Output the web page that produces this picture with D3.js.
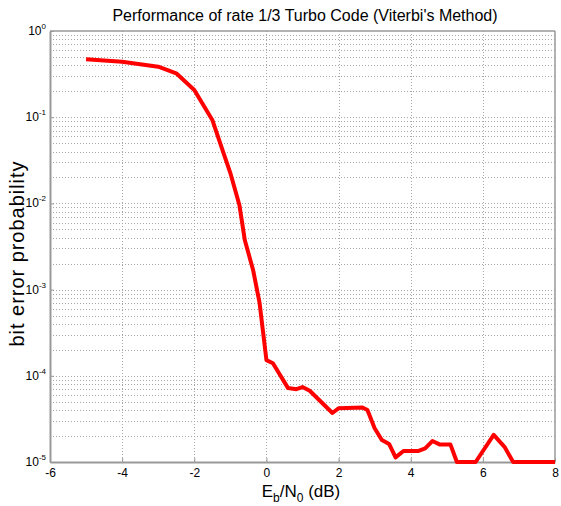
<!DOCTYPE html>
<html>
<head>
<meta charset="utf-8">
<script src="https://cdn.jsdelivr.net/npm/d3@7"></script>
<style>
  body { margin: 0; background: #fff; }
  text { font-family: Arial, "Liberation Sans", sans-serif; }
</style>
</head>
<body>
<div id="chart"></div>
<script>
// Eb/N0 in dB
const ebno = [-5, -4, -3, -2.5, -2, -1.5, -1.25, -1, -0.75, -0.6, -0.37, -0.19, -0.1, 0,
  0.18, 0.6, 0.83, 1.0, 1.2, 1.83, 2.0, 2.66, 2.8, 3.0, 3.2, 3.4, 3.58, 3.8, 4.2, 4.4,
  4.6, 4.8, 5.1, 5.28, 5.8, 6.3, 6.6, 6.84, 8.0];
// bit error probability
const ber = [0.47, 0.44, 0.385, 0.323, 0.207, 0.093, 0.0455, 0.0225, 0.0096, 0.00376,
  0.00169, 0.0007, 0.00034, 0.000152, 0.00014, 7.2e-5, 7.0e-5, 7.4e-5, 6.7e-5, 3.7e-5,
  4.2e-5, 4.3e-5, 4.0e-5, 2.46e-5, 1.8e-5, 1.62e-5, 1.13e-5, 1.34e-5, 1.34e-5, 1.44e-5,
  1.75e-5, 1.6e-5, 1.6e-5, 1e-5, 1e-5, 2.06e-5, 1.5e-5, 1e-5, 1e-5];
const xTicks = [-6, -4, -2, 0, 2, 4, 6, 8];
const yExps = [0, -1, -2, -3, -4, -5];

const width = 561, height = 506;
const margin = {top: 31, right: 6, bottom: 44, left: 50};

const xScale = d3.scaleLinear()
    .domain([-6, 8])
    .range([margin.left, width - margin.right]);

const yScale = d3.scaleLog()
    .domain([1e-5, 1])
    .range([height - margin.bottom, margin.top]);

const svg = d3.select("#chart")
    .append("svg")
    .attr("width", width)
    .attr("height", height);

// minor + major horizontal grid
let yGrid = [];
for (let e = -5; e < 0; e++) {
    for (let m = 1; m < 10; m++) yGrid.push(m * Math.pow(10, e));
}
yGrid = yGrid.filter(v => v > 1e-5);

svg.append("g")
    .selectAll("line")
    .data(yGrid)
    .join("line")
      .attr("x1", margin.left)
      .attr("x2", width - margin.right)
      .attr("y1", d => Math.round(yScale(d)) + 0.5)
      .attr("y2", d => Math.round(yScale(d)) + 0.5)
      .attr("stroke", "#a8a8a8")
      .attr("stroke-dasharray", "1,2");

svg.append("g")
    .selectAll("line")
    .data(xTicks.slice(1, -1))
    .join("line")
      .attr("x1", d => Math.round(xScale(d)) + 0.5)
      .attr("x2", d => Math.round(xScale(d)) + 0.5)
      .attr("y1", margin.top)
      .attr("y2", height - margin.bottom)
      .attr("stroke", "#a8a8a8")
      .attr("stroke-dasharray", "1,2");

// axes (ticks inside, like matlab)
const xAxis = svg.append("g")
    .attr("transform", `translate(0,${height - margin.bottom})`)
    .call(d3.axisBottom(xScale).tickValues(xTicks).tickSizeInner(-4).tickSizeOuter(0)
        .tickPadding(6).tickFormat(d => String(d)));

const yAxis = svg.append("g")
    .attr("transform", `translate(${margin.left},0)`)
    .call(d3.axisLeft(yScale).tickValues(yExps.map(e => Math.pow(10, e))).tickSizeInner(-4).tickSizeOuter(0).tickFormat(""));

svg.selectAll(".domain").attr("stroke", "#999").attr("stroke-width", 2);
svg.selectAll(".tick line").attr("stroke", "#999");
xAxis.selectAll("text").attr("font-size", 12).attr("fill", "#000");

// top and right box lines
svg.append("line")
    .attr("x1", margin.left).attr("x2", width - margin.right)
    .attr("y1", margin.top).attr("y2", margin.top)
    .attr("stroke", "#999").attr("stroke-width", 1.5);
svg.append("line")
    .attr("x1", width - margin.right).attr("x2", width - margin.right)
    .attr("y1", margin.top).attr("y2", height - margin.bottom)
    .attr("stroke", "#999").attr("stroke-width", 1.5);

// y tick labels 10^e
const yLab = svg.append("g")
    .selectAll("text")
    .data(yExps)
    .join("text")
      .attr("x", margin.left - 4)
      .attr("y", d => yScale(Math.pow(10, d)) + 4)
      .attr("text-anchor", "end")
      .attr("font-size", 12);
yLab.append("tspan").text("10");
yLab.append("tspan").attr("dy", -6).attr("font-size", 8).text(d => d);

// curve
const line = d3.line()
    .x((d, i) => xScale(ebno[i]))
    .y(d => yScale(d))
    .curve(d3.curveLinear);

svg.append("path")
    .datum(ber)
    .attr("d", line)
    .attr("fill", "none")
    .attr("stroke", "#ff0000")
    .attr("stroke-width", 4)
    .attr("stroke-linejoin", "round");

// title and labels
svg.append("text")
    .attr("x", 305)
    .attr("y", 21)
    .attr("text-anchor", "middle")
    .attr("font-size", 16)
    .text("Performance of rate 1/3 Turbo Code (Viterbi's Method)");

svg.append("text")
    .attr("transform", `translate(24,254) rotate(-90)`)
    .attr("text-anchor", "middle")
    .attr("font-size", 20)
    .attr("textLength", 185)
    .attr("lengthAdjust", "spacing")
    .text("bit error probability");

const xl = svg.append("text")
    .attr("x", 301)
    .attr("y", 497)
    .attr("text-anchor", "middle")
    .attr("font-size", 17);
xl.append("tspan").text("E");
xl.append("tspan").attr("dy", 5).attr("font-size", 12).text("b");
xl.append("tspan").attr("dy", -5).text("/N");
xl.append("tspan").attr("dy", 5).attr("font-size", 12).text("0");
xl.append("tspan").attr("dy", -5).text(" (dB)");
</script>
</body>
</html>
